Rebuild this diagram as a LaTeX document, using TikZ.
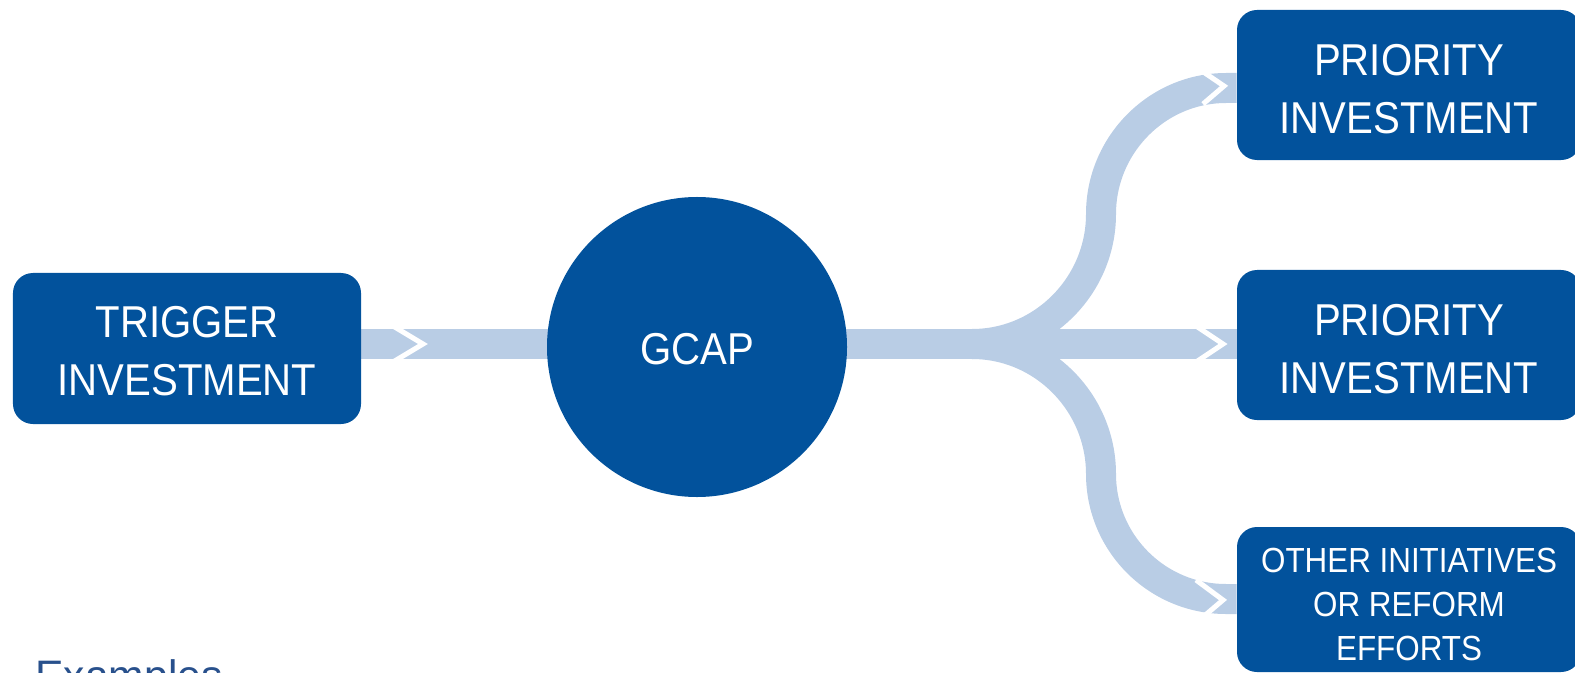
\documentclass[tikz,border=0pt]{standalone}
\usepackage{fontspec}
\setmainfont{Liberation Sans}
\newfontfamily\boxfont{Liberation Sans}[FakeStretch=0.9]
\definecolor{dblue}{HTML}{02529C}
\definecolor{lblue}{HTML}{B9CDE5}
\definecolor{exblue}{RGB}{40,80,140}
\pgfdeclarelayer{background}
\pgfsetlayers{background,main}
\newcommand{\toppad}[1]{\rule{0pt}{#1}}
\begin{document}
\begin{tikzpicture}[x=0.5bp,y=-0.5bp,
  box/.style={fill=dblue, rounded corners=10bp, text=white, align=center,
    minimum width=172bp, inner sep=0pt, font=\boxfont\fontsize{22.4}{29.1}\selectfont},
  hub/.style={circle, fill=dblue, minimum size=150bp, inner sep=0pt, text=white,
    font=\boxfont\fontsize{22.4}{29.1}\selectfont},
  band/.style={draw=lblue, line width=15bp},
  chev/.style={draw=white, line width=2.5bp, line join=miter}]
\useasboundingbox (0,0) rectangle (1575,673);

\node[box, minimum width=174bp, minimum height=75.5bp] (trig) at (187,348.5) {\toppad{18.3pt}TRIGGER\\INVESTMENT};
\node[hub] (gcap) at (697,347) {\toppad{17.6pt}GCAP};
\node[box, minimum height=75bp] (p1) at (1409,85) {\toppad{19.3pt}PRIORITY\\INVESTMENT};
\node[box, minimum height=75bp] (p2) at (1409,345) {\toppad{19.3pt}PRIORITY\\INVESTMENT};
\node[box, minimum height=72.5bp, font=\boxfont\fontsize{17.5}{22.1}\selectfont] (oth) at (1409,599.5) {\toppad{17.3pt}OTHER INITIATIVES\\OR REFORM\\EFFORTS};
\node[anchor=base west, inner sep=0pt, text=exblue, font=\fontsize{21.4}{25}\selectfont] (ex) at (35,690.5) {Examples};

\coordinate (j) at (972,344);
\coordinate (e1) at (1226,88);
\coordinate (e3) at (1226,599);

\begin{pgfonlayer}{background}
\draw[band] (trig.east |- j) -- (gcap.center |- j);
\draw[band] (gcap.center |- j) -- (p2.west |- j);
\draw[band] (j) .. controls (1043.2,344) and (1101,285.2) .. (1101,214)
  .. controls (1101,145) and (1157,88) .. (e1) -- (p1.west |- e1);
\draw[band] (j) .. controls (1043.2,344) and (1101,402.8) .. (1101,474)
  .. controls (1101,543) and (1157,599) .. (e3) -- (oth.west |- e3);
\end{pgfonlayer}

\draw[chev] (393,326) -- (423,344) -- (393,362);
\draw[chev] (1196,326) -- (1223,344) -- (1196,362);
\draw[chev] (1199,69) -- (1224,86) -- (1203,104);
\draw[chev] (1196,580) -- (1223,600) -- (1203,617);
\end{tikzpicture}
\end{document}
